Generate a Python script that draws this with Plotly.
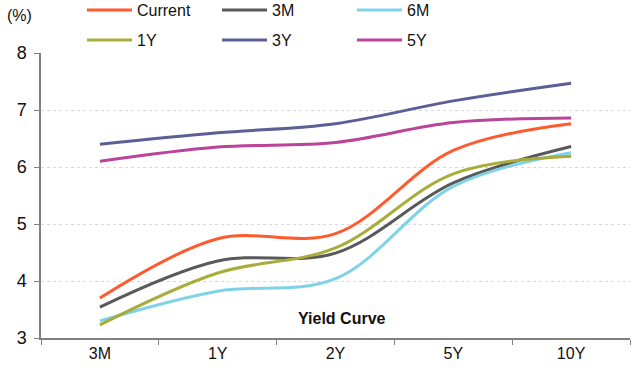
import plotly.graph_objects as go

tenors = ["3M", "1Y", "2Y", "5Y", "10Y"]

current = [3.70, 4.74, 4.83, 6.29, 6.76]
m3 = [3.54, 4.35, 4.49, 5.72, 6.36]
m6 = [3.30, 3.82, 4.04, 5.66, 6.25]
y1 = [3.23, 4.14, 4.58, 5.88, 6.19]
y3 = [6.40, 6.60, 6.76, 7.16, 7.47]
y5 = [6.10, 6.35, 6.43, 6.78, 6.86]

# (name, values, colour, legend row)
series = [
    ("Current", current, "#FF5A2E", "legend"),
    ("3M", m3, "#595959", "legend"),
    ("6M", m6, "#7FD3E8", "legend"),
    ("1Y", y1, "#A8AD3A", "legend2"),
    ("3Y", y3, "#5B5F95", "legend2"),
    ("5Y", y5, "#B9449A", "legend2"),
]

FONT = "Liberation Sans, Arial, sans-serif"

fig = go.Figure()
for name, vals, color, leg in series:
    fig.add_trace(go.Scatter(
        x=tenors, y=vals, name=name, mode="lines", legend=leg,
        line=dict(color=color, width=3, shape="spline", smoothing=1.0),
    ))

legend_common = dict(
    orientation="h", xref="container", yref="container",
    xanchor="left", yanchor="middle",
    entrywidth=75, entrywidthmode="pixels", itemwidth=45,
    font=dict(size=16, family=FONT), bgcolor="rgba(0,0,0,0)",
)

fig.update_layout(
    width=637, height=380,
    margin=dict(l=41, r=7, t=53, b=42, autoexpand=False),
    paper_bgcolor="white", plot_bgcolor="white",
    font=dict(family=FONT, size=15, color="#111111"),
    showlegend=True,
    legend=dict(x=82 / 637, y=1 - 10 / 380, **legend_common),
    legend2=dict(x=82 / 637, y=1 - 40 / 380, **legend_common),
    xaxis=dict(
        type="category", range=[-0.5, 4.5],
        showline=True, linecolor="#808080", linewidth=1.5,
        ticks="outside", tickson="boundaries", ticklen=5, tickcolor="#808080",
        showgrid=False, tickfont=dict(size=16),
    ),
    yaxis=dict(
        range=[3, 8], dtick=1,
        showline=True, linecolor="#808080", linewidth=1.5,
        ticks="outside", ticklen=5, tickcolor="#808080",
        showgrid=True, gridcolor="#D9D9D9", griddash="dot", gridwidth=1,
        zeroline=False, tickfont=dict(size=18), ticklabelstandoff=4,
    ),
    annotations=[
        dict(text="(%)", xref="paper", yref="paper", x=-0.036, y=1.133,
             xanchor="center", yanchor="middle", showarrow=False,
             font=dict(size=16)),
        dict(text="<b>Yield Curve</b>", xref="paper", yref="paper", x=0.511, y=0.07,
             xanchor="center", yanchor="middle", showarrow=False,
             font=dict(size=16)),
    ],
)

fig.write_html("out.html")
